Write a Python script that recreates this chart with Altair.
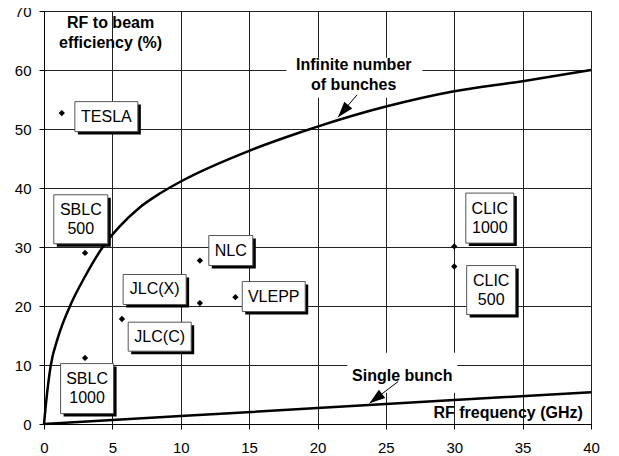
import math
import altair as alt
import pandas as pd

# ---------------- data ----------------
inf_freq = [0, 0.2, 0.5, 1, 2, 3, 4.3, 5.5, 7, 8.5, 10, 15, 18.7, 20, 25, 30, 35, 40]
inf_eff = [0, 4.7, 10, 14.5, 20.5, 25, 30, 33.4, 36.7, 39.1, 41.1, 46.3, 49.4, 50.4, 53.8, 56.4, 58.1, 60]

single_freq = [0, 10, 20, 30, 40]
single_eff = [0, 1.35, 2.7, 4.05, 5.4]

machines = ["TESLA", "SBLC\n500", "SBLC\n1000", "JLC(C)", "JLC(X)", "NLC", "VLEPP", "CLIC\n1000", "CLIC\n500"]
mach_freq = [1.3, 3, 3, 5.7, 11.4, 11.4, 14, 30, 30]
mach_eff = [52.7, 29.0, 11.2, 17.8, 20.5, 27.7, 21.5, 30.1, 26.7]

x_ticks = [0, 5, 10, 15, 20, 25, 30, 35, 40]
y_ticks = [0, 10, 20, 30, 40, 50, 60, 70]

# ---------------- annotation layout ----------------
label_x = [4.56, 2.69, 3.15, 8.46, 8.09, 13.66, 16.8, 32.6, 32.7]
label_y = [52.1, 34.7, 6.0, 14.8, 22.8, 29.4, 21.6, 34.9, 22.7]
box_w = [63, 54, 53, 63, 63, 44, 63, 48, 49]
box_h = [30, 49, 50, 29, 30, 30, 30, 50, 49]

W, H = 547, 413
XMAX, YMAX = 40, 70
PX = W / XMAX
PY = H / YMAX
FONT = "Liberation Sans, Arial, Helvetica, sans-serif"
LH_BOX = 19
LH_ANN = 20
SH = 3  # shadow offset in px

xs = alt.Scale(domain=[0, XMAX], nice=False, zero=True)
ys = alt.Scale(domain=[0, YMAX], nice=False, zero=True)

xaxis = alt.Axis(values=x_ticks, title=None, grid=True, gridColor="#222", gridWidth=1,
                 domainColor="black", tickColor="black", tickSize=5, labelFont=FONT,
                 labelFontSize=15, labelColor="black", labelPadding=11, labelFlush=False)
yaxis = alt.Axis(values=y_ticks, title=None, grid=True, gridColor="#222", gridWidth=1,
                 domainColor="black", tickColor="black", tickSize=5, labelFont=FONT,
                 labelFontSize=15, labelColor="black", labelPadding=8, labelFlush=False)

curve_inf = pd.DataFrame({"f": inf_freq, "e": inf_eff})
curve_single = pd.DataFrame({"f": single_freq, "e": single_eff})
pts = pd.DataFrame({"f": mach_freq, "e": mach_eff})


def text_anchor_y(texts, ys_, lh):
    out = []
    for t, y in zip(texts, ys_):
        n = t.count("\n")
        out.append(y + n * lh / 2 / PY)
    return out


boxes = pd.DataFrame({"name": machines, "cx": label_x})
boxes["ty"] = text_anchor_y(machines, label_y, LH_BOX)
boxes["x1"] = [cx - w / 2 / PX for cx, w in zip(label_x, box_w)]
boxes["x2"] = [cx + w / 2 / PX for cx, w in zip(label_x, box_w)]
boxes["y1"] = [cy - h / 2 / PY for cy, h in zip(label_y, box_h)]
boxes["y2"] = [cy + h / 2 / PY for cy, h in zip(label_y, box_h)]
boxes["sx1"] = boxes["x1"] + SH / PX
boxes["sx2"] = boxes["x2"] + SH / PX
boxes["sy1"] = boxes["y1"] - SH / PY
boxes["sy2"] = boxes["y2"] - SH / PY

base_grid = alt.Chart(curve_inf).mark_line(opacity=0).encode(
    x=alt.X("f:Q", scale=xs, axis=xaxis),
    y=alt.Y("e:Q", scale=ys, axis=yaxis),
)

# white backgrounds behind curve labels
bg_cx = [22.7, 26.2]
bg_cy = [58.7, 8.7]
bg_w = [136, 110]
bg_h = [40, 40]
bg = pd.DataFrame({
    "x1": [c - w / 2 / PX for c, w in zip(bg_cx, bg_w)],
    "x2": [c + w / 2 / PX for c, w in zip(bg_cx, bg_w)],
    "y1": [c - h / 2 / PY for c, h in zip(bg_cy, bg_h)],
    "y2": [c + h / 2 / PY for c, h in zip(bg_cy, bg_h)],
})
bg_layer = alt.Chart(bg).mark_rect(fill="white").encode(
    x=alt.X("x1:Q", scale=xs), x2="x2:Q", y=alt.Y("y1:Q", scale=ys), y2="y2:Q")

line_inf = alt.Chart(curve_inf).mark_line(color="black", strokeWidth=2.5, interpolate="monotone").encode(
    x=alt.X("f:Q", scale=xs), y=alt.Y("e:Q", scale=ys))
line_single = alt.Chart(curve_single).mark_line(color="black", strokeWidth=2.5).encode(
    x=alt.X("f:Q", scale=xs), y=alt.Y("e:Q", scale=ys))

points = alt.Chart(pts).mark_point(shape="diamond", filled=True, color="black", size=40, opacity=1).encode(
    x=alt.X("f:Q", scale=xs), y=alt.Y("e:Q", scale=ys))

shadow = alt.Chart(boxes).mark_rect(fill="black").encode(
    x=alt.X("sx1:Q", scale=xs), x2="sx2:Q", y=alt.Y("sy1:Q", scale=ys), y2="sy2:Q")
box = alt.Chart(boxes).mark_rect(fill="white", stroke="#555", strokeWidth=1).encode(
    x=alt.X("x1:Q", scale=xs), x2="x2:Q", y=alt.Y("y1:Q", scale=ys), y2="y2:Q")
box_text = alt.Chart(boxes).mark_text(font=FONT, fontSize=16, color="black", lineBreak="\n",
                                      lineHeight=LH_BOX, align="center", baseline="middle").encode(
    x=alt.X("cx:Q", scale=xs), y=alt.Y("ty:Q", scale=ys), text="name:N")

# curve / axis annotation texts
ann_text = ["Infinite number\nof bunches", "Single bunch", "RF to beam\nefficiency (%)"]
ann_x = [22.65, 26.2, 4.87]
ann_y = [59.2, 8.2, 66.2]
ann = pd.DataFrame({"t": ann_text, "x": ann_x, "y": text_anchor_y(ann_text, ann_y, LH_ANN)})
ann_layer = alt.Chart(ann).mark_text(font=FONT, fontSize=16, fontWeight="bold", color="black",
                                     lineBreak="\n", lineHeight=LH_ANN, align="center", baseline="middle").encode(
    x=alt.X("x:Q", scale=xs), y=alt.Y("y:Q", scale=ys), text="t:N")

rf = pd.DataFrame({"t": ["RF frequency (GHz)"], "x": [39.4], "y": [1.8]})
rf_layer = alt.Chart(rf).mark_text(font=FONT, fontSize=16, fontWeight="bold", color="black",
                                   align="right", baseline="middle").encode(
    x=alt.X("x:Q", scale=xs), y=alt.Y("y:Q", scale=ys), text="t:N")

# arrows
tail_x = [22.9, 25.9]
tail_y = [55.8, 7.2]
tip_x = [21.5, 23.8]
tip_y = [52.0, 3.5]
angles = []
for tx, ty, px_, py_ in zip(tail_x, tail_y, tip_x, tip_y):
    dx = (tx - px_) * PX
    dy = -(ty - py_) * PY
    th = math.degrees(math.atan2(-dx, dy)) % 360
    angles.append(th)
arrows = pd.DataFrame({"tx": tail_x, "ty": tail_y, "hx": tip_x, "hy": tip_y, "ang": angles})
arrow_lines = alt.Chart(arrows).mark_rule(color="black", strokeWidth=1).encode(
    x=alt.X("tx:Q", scale=xs), y=alt.Y("ty:Q", scale=ys), x2="hx:Q", y2="hy:Q")
arrow_heads = alt.Chart(arrows).mark_point(shape="M0,0L-0.33,1L0.33,1Z", filled=True, color="black",
                                           size=1000, opacity=1, strokeWidth=0).encode(
    x=alt.X("hx:Q", scale=xs), y=alt.Y("hy:Q", scale=ys),
    angle=alt.Angle("ang:Q", scale=None))

chart = alt.layer(
    base_grid, bg_layer, line_single, line_inf, arrow_lines, arrow_heads,
    points, shadow, box, box_text, ann_layer, rf_layer
).properties(
    width=W, height=H,
    autosize=alt.AutoSizeParams(type="none"),
    padding={"left": 36, "top": 3, "right": 19, "bottom": 32},
    background="white",
).configure_view(stroke="black", strokeWidth=1)

chart.save("out.html", embed_options={"renderer": "svg", "actions": False})
